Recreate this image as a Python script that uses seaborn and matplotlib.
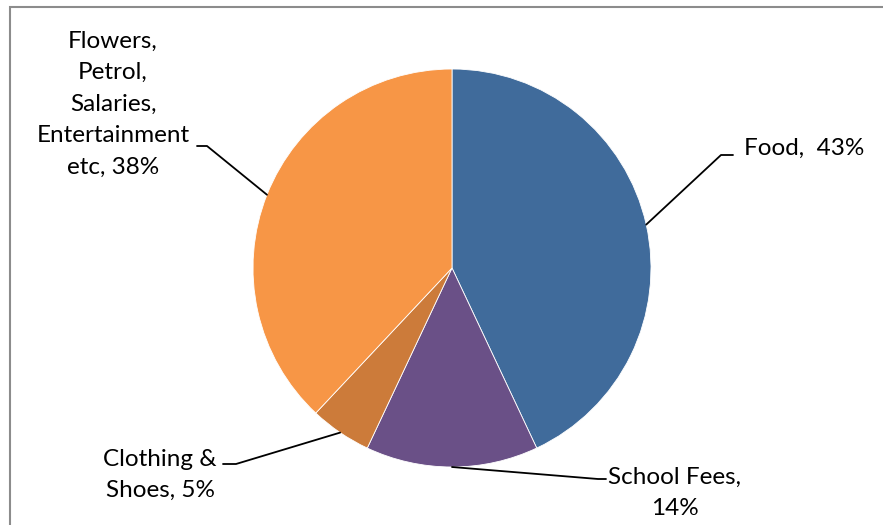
import numpy as np
import matplotlib.pyplot as plt
import seaborn as sns
from matplotlib.patches import Rectangle

# expense shares (percent), clockwise from 12 o'clock
categories = ['Food', 'School Fees', 'Clothing & Shoes', 'Flowers, Petrol, Salaries, Entertainment etc']
shares = [43, 14, 5, 38]
label_texts = ['Food,  43%', 'School Fees,\n14%', 'Clothing &\nShoes, 5%',
               'Flowers,\nPetrol,\nSalaries,\nEntertainment\netc, 38%']
colors = ['#406B9B', '#6A5087', '#CC7B3A', '#F79646']

sns.set_style('white')
plt.rcParams['font.family'] = ['Lato', 'DejaVu Sans']

W, H = 883, 525
cx, cy, R = 452, 268, 199

fig = plt.figure(figsize=(W / 100, H / 100), dpi=100)
ax = fig.add_axes([0, 0, 1, 1])

def px(x, y):
    # pixel position -> data coords (pie radius = 1)
    return (x - cx) / R, (cy - y) / R

wedges, _ = ax.pie(shares, colors=colors, startangle=90, counterclock=False,
                   radius=1, wedgeprops=dict(linewidth=0.6, edgecolor='white'))
ax.set_xlim(px(0, 0)[0], px(W, 0)[0])
ax.set_ylim(px(0, H)[1], px(0, 0)[1])
ax.set_aspect('equal')
ax.axis('off')

# leader elbow, line end and text anchor (pixels) for each slice
elbows = [(721, 155), (598, 479), (236, 464), (207, 146)]
ends = [(733, 155), (606, 479), (223, 464), (197, 146)]
text_pos = [(744, 148, 'left'), (675, 493, 'center'), (160, 475, 'center'), (113, 104, 'center')]

for w, el, en, tp, txt in zip(wedges, elbows, ends, text_pos, label_texts):
    ang = np.deg2rad((w.theta1 + w.theta2) / 2)
    x0, y0 = np.cos(ang), np.sin(ang)
    ex, ey = px(*el)
    nx, ny = px(*en)
    ax.plot([x0, ex, nx], [y0, ey, ny], color='black', lw=1.3, clip_on=False)
    tx, ty = px(tp[0], tp[1])
    ax.text(tx, ty, txt, ha=tp[2], va='center', multialignment='center',
            fontsize=17.5, linespacing=1.62, color='black')

fig.patches.append(Rectangle((9.5 / W, -0.1), 2, 1 - 6.5 / H + 0.1, transform=fig.transFigure,
                             fill=False, edgecolor='#8c8c8c', lw=1.5))

fig.savefig('out.png', dpi=100)
